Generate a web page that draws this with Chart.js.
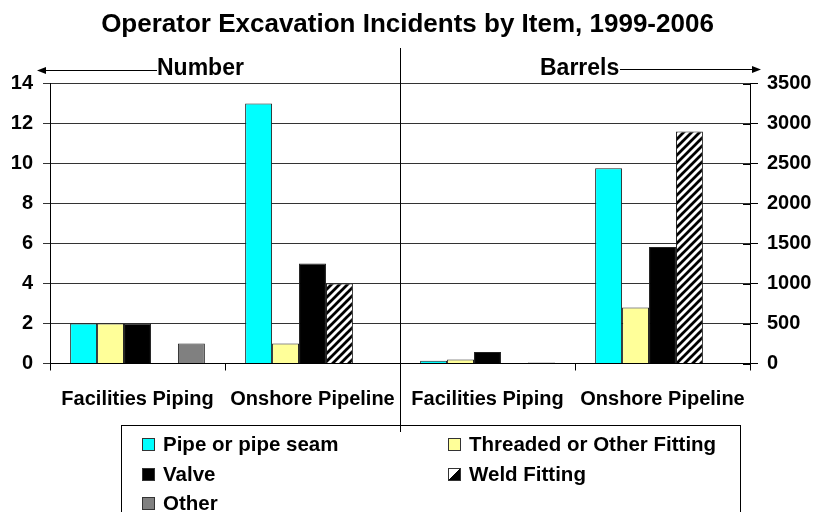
<!DOCTYPE html>
<html>
<head>
<meta charset="utf-8">
<script src="https://cdn.jsdelivr.net/npm/chart.js@4.4.0/dist/chart.umd.min.js"></script>
<style>
    body { margin: 0; background: #fff; }
    #wrap { position: relative; width: 815px; height: 512px; overflow: hidden; }
    #legend {
        position: absolute; left: 121px; top: 425px; width: 620px; height: 120px;
        border: 1px solid #000; box-sizing: border-box;
        font-family: 'Liberation Sans', Arial, sans-serif; font-weight: bold; font-size: 20.5px;
    }
    .item { position: absolute; white-space: nowrap; line-height: 24px; }
    .box { display: inline-block; width: 11px; height: 11px; border: 1px solid #333; margin-right: 8px; vertical-align: 0px; }
</style>
</head>
<body>
<div id="wrap">
    <canvas id="chart" width="815" height="512"></canvas>
    <div id="legend"></div>
</div>
<script>
// Data
const categories = ['Facilities Piping', 'Onshore Pipeline', 'Facilities Piping', 'Onshore Pipeline'];
const items = ['Pipe or pipe seam', 'Threaded or Other Fitting', 'Valve', 'Weld Fitting', 'Other'];
// incident counts (left axis) for Facilities Piping, Onshore Pipeline
const numberPipe = [2, 13];
const numberThreaded = [2, 1];
const numberValve = [2, 5];
const numberWeld = [0, 4];
const numberOther = [1, 0];
// barrels (right axis) for Facilities Piping, Onshore Pipeline
const barrelsPipe = [35, 2440];
const barrelsThreaded = [50, 700];
const barrelsValve = [145, 1455];
const barrelsWeld = [0, 2900];
const barrelsOther = [12, 0];

const numberTicks = [0, 2, 4, 6, 8, 10, 12, 14];
const barrelTicks = [0, 500, 1000, 1500, 2000, 2500, 3000, 3500];

const FONT = "'Liberation Sans', Arial, sans-serif";

// Hatch pattern for weld fitting
function makeHatch() {
    const c = document.createElement('canvas');
    c.width = 8; c.height = 8;
    const g = c.getContext('2d');
    g.fillStyle = '#fff';
    g.fillRect(0, 0, 8, 8);
    g.strokeStyle = '#000';
    g.lineWidth = 2.8;
    g.beginPath();
    g.moveTo(-2, 10); g.lineTo(10, -2);
    g.moveTo(-2, 2); g.lineTo(2, -2);
    g.moveTo(6, 10); g.lineTo(10, 6);
    g.stroke();
    return g.createPattern(c, 'repeat');
}

const colors = ['#00FFFF', '#FFFF99', '#000000', makeHatch(), '#808080'];
const numberSets = [numberPipe, numberThreaded, numberValve, numberWeld, numberOther];
const barrelSets = [barrelsPipe, barrelsThreaded, barrelsValve, barrelsWeld, barrelsOther];

const datasets = [];
items.forEach((name, i) => {
    const common = {
        label: name,
        backgroundColor: colors[i],
        borderColor: '#222',
        borderWidth: 1,
        stack: 's' + i,
        categoryPercentage: 0.77,
        barPercentage: 1.0
    };
    datasets.push(Object.assign({}, common, {
        data: [numberSets[i][0], numberSets[i][1], null, null],
        yAxisID: 'y'
    }));
    datasets.push(Object.assign({}, common, {
        data: [null, null, barrelSets[i][0], barrelSets[i][1]],
        yAxisID: 'y2'
    }));
});

// Divider, arrows and the Number / Barrels captions
const extrasPlugin = {
    id: 'extras',
    afterDraw(chart) {
        const ctx = chart.ctx;
        const xs = chart.scales.x;
        const mid = Math.round((xs.getPixelForValue(1) + xs.getPixelForValue(2)) / 2) + 0.5;
        ctx.save();
        ctx.strokeStyle = '#000';
        ctx.fillStyle = '#000';
        ctx.lineWidth = 1;
        ctx.beginPath();
        ctx.moveTo(mid, 48);
        ctx.lineTo(mid, 432);
        ctx.stroke();

        // right axis tick marks cross into the plot a little
        const y2 = chart.scales.y2;
        const right = chart.chartArea.right;
        barrelTicks.forEach(v => {
            const py = Math.round(y2.getPixelForValue(v)) + 0.5;
            ctx.beginPath();
            ctx.moveTo(right - 7, py);
            ctx.lineTo(right, py);
            ctx.stroke();
        });

        ctx.font = 'bold 23px ' + FONT;
        ctx.textBaseline = 'alphabetic';
        ctx.textAlign = 'left';
        ctx.fillText('Number', 157, 75);
        ctx.fillText('Barrels', 540, 75);

        // left arrow
        ctx.beginPath();
        ctx.moveTo(157, 70.5); ctx.lineTo(44, 70.5);
        ctx.stroke();
        ctx.beginPath();
        ctx.moveTo(37, 70.5); ctx.lineTo(46, 67); ctx.lineTo(46, 74); ctx.closePath();
        ctx.fill();
        // right arrow
        ctx.beginPath();
        ctx.moveTo(620, 69.5); ctx.lineTo(754, 69.5);
        ctx.stroke();
        ctx.beginPath();
        ctx.moveTo(761, 69.5); ctx.lineTo(752, 66); ctx.lineTo(752, 73); ctx.closePath();
        ctx.fill();
        ctx.restore();
    }
};

const ctx = document.getElementById('chart').getContext('2d');
const chart = new Chart(ctx, {
    type: 'bar',
    data: { labels: categories, datasets: datasets },
    plugins: [extrasPlugin],
    options: {
        responsive: false,
        animation: false,
        layout: { padding: { top: 0, left: 0, right: 0, bottom: 0 } },
        plugins: {
            legend: { display: false },
            tooltip: { enabled: false },
            title: {
                display: true,
                text: 'Operator Excavation Incidents by Item, 1999-2006',
                color: '#000',
                font: { family: FONT, size: 26, weight: 'bold' },
                padding: { top: 9, bottom: 43.3 }
            }
        },
        scales: {
            x: {
                offset: true,
                grid: { offset: true, drawOnChartArea: false, drawTicks: true, tickLength: 7, color: '#000' },
                border: { display: true, color: '#000' },
                ticks: { color: '#000', font: { family: FONT, size: 20, weight: 'bold' }, padding: 17, maxRotation: 0 },
                afterFit(scale) { scale.height = 148.5; }
            },
            y: {
                position: 'left',
                min: 0,
                max: 14,
                afterBuildTicks(scale) { scale.ticks = numberTicks.map(v => ({ value: v })); },
                grid: { color: '#333', tickLength: 7 },
                border: { display: true, color: '#000' },
                ticks: { color: '#000', font: { family: FONT, size: 20, weight: 'bold' }, padding: 10 },
                afterFit(scale) { scale.width = 50; }
            },
            y2: {
                position: 'right',
                min: 0,
                max: 3500,
                afterBuildTicks(scale) { scale.ticks = barrelTicks.map(v => ({ value: v })); },
                grid: { drawOnChartArea: false, color: '#000', tickLength: 8 },
                border: { display: true, color: '#000' },
                ticks: {
                    color: '#000',
                    font: { family: FONT, size: 20, weight: 'bold' },
                    padding: 9,
                    callback: (value) => String(value)
                },
                afterFit(scale) { scale.width = 65; }
            }
        }
    }
});

// HTML legend in two columns
const legendEl = document.getElementById('legend');
const legendPos = [[20, 6], [326, 6], [20, 36], [326, 36], [20, 65]];
items.forEach((name, i) => {
    const div = document.createElement('div');
    div.className = 'item';
    div.style.left = legendPos[i][0] + 'px';
    div.style.top = legendPos[i][1] + 'px';
    const box = document.createElement('span');
    box.className = 'box';
    if (i === 3) {
        box.style.background = 'linear-gradient(135deg, #fff 0 50%, #000 50% 100%)';
    } else {
        box.style.background = colors[i];
    }
    div.appendChild(box);
    div.appendChild(document.createTextNode(name));
    legendEl.appendChild(div);
});
</script>
</body>
</html>
